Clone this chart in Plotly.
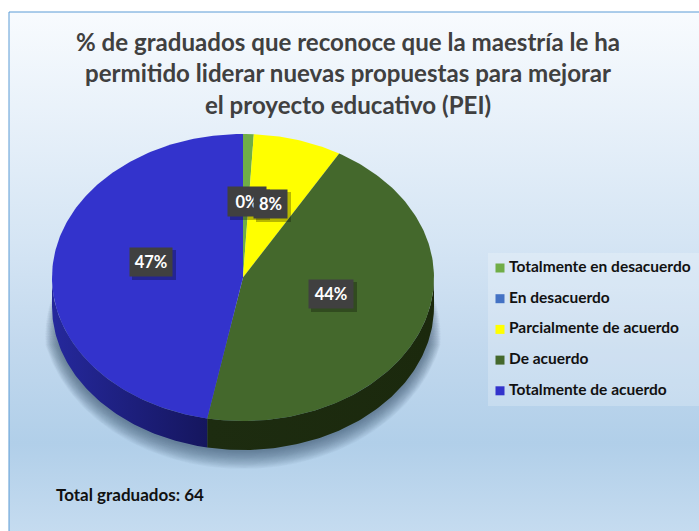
import numpy as np
import plotly.graph_objects as go

# ---- data ----
categories = ["Totalmente en desacuerdo", "En desacuerdo", "Parcialmente de acuerdo",
              "De acuerdo", "Totalmente de acuerdo"]
values = [0.9, 0.0, 7.5, 44.6, 47.0]
label_texts = ["0%", "8%", "44%", "47%"]
title_lines = ["% de graduados que reconoce que la maestría le ha",
               "permitido liderar nuevas propuestas para mejorar",
               "el proyecto educativo (PEI)"]
note_text = "Total graduados: 64"

# ---- styling / layout constants ----
W, H = 699, 531
top_colors = ["#70ad47", "#4472c4", "#ffff00", "#44682c", "#3333cc"]
side_colors = [("#4a7530", "#4a7530"), ("#2d4c85", "#2d4c85"), ("#a8a800", "#a8a800"),
               ("#1d2c10", "#1b290d"), ("#25289c", "#15165e")]
CX, CY, RX, RY, DEPTH = 243.0, 277.5, 191.0, 143.5, 29.0
FONT = "Lato"
label_boxes = [(228, 266, 187, 216), (254, 287, 190, 218), (309, 353, 280, 308), (130, 172, 248, 276)]


def arc(t1, t2):
    n = max(2, int(abs(t2 - t1)) + 2)
    t = np.radians(np.linspace(t1, t2, n))
    return CX + RX * np.sin(t), CY - RY * np.cos(t)


fig = go.Figure()

# background panel with gradient
fig.add_trace(go.Scatter(
    x=[9, W + 5, W + 5, 9, 9], y=[12, 12, H + 5, H + 5, 12], mode="lines", fill="toself",
    line=dict(color="#5b9bd5", width=1),
    fillgradient=dict(type="vertical",
                      colorscale=[[0, "#c6dcf0"], [0.177, "#b1cfe9"], [0.374, "#c3d9ee"],
                                  [0.56, "#d5e5f4"], [1, "#f8fbfe"]]),
    hoverinfo="skip", showlegend=False))

# legend panel
fig.add_trace(go.Scatter(
    x=[488, W + 5, W + 5, 488, 488], y=[253, 253, 406, 406, 253], mode="lines", fill="toself",
    line=dict(width=0), fillcolor="rgba(255,255,255,0.22)", hoverinfo="skip", showlegend=False))

# soft drop shadow below the pie
for k in range(20, 0, -1):
    cut = k * 3.0
    t = np.radians(np.linspace(85 + cut * 0.3, 275 - cut * 0.3, 200))
    sx = CX + (RX + k * 0.6) * np.sin(t)
    sy = CY + DEPTH + 1 + (RY + k * 0.9) * -np.cos(t)
    fig.add_trace(go.Scatter(x=sx, y=sy, mode="lines", fill="toself", line=dict(width=0),
                             fillcolor="rgba(60,80,100,0.04)", hoverinfo="skip", showlegend=False))

# pie walls and top faces from the values
edges = np.cumsum([0] + values) * 3.6
for i, v in enumerate(values):
    if v <= 0:
        continue
    a, b = edges[i], edges[i + 1]
    lo, hi = max(a, 90), min(b, 270)
    if lo < hi:
        ax, ay = arc(lo, hi)
        fig.add_trace(go.Scatter(
            x=np.r_[ax, ax[::-1], ax[0]], y=np.r_[ay, ay[::-1] + DEPTH, ay[0]],
            mode="lines", fill="toself", line=dict(width=0),
            fillgradient=dict(type="horizontal",
                              colorscale=[[0, side_colors[i][0]], [1, side_colors[i][1]]]),
            hoverinfo="skip", showlegend=False))
for i, v in enumerate(values):
    if v <= 0:
        continue
    ax, ay = arc(edges[i], edges[i + 1])
    fig.add_trace(go.Scatter(
        x=np.r_[CX, ax, CX], y=np.r_[CY, ay, CY], mode="lines", fill="toself",
        line=dict(width=0), fillcolor=top_colors[i], name=categories[i],
        hoverinfo="name", showlegend=False))

# legend
LEG_Y0, LEG_STEP = 268.0, 30.7
leg_y = [LEG_Y0 + LEG_STEP * i for i in range(len(categories))]
fig.add_trace(go.Scatter(
    x=[500] * len(categories), y=leg_y, mode="markers",
    marker=dict(symbol="square", size=9, color=top_colors, line_width=0),
    hoverinfo="skip", showlegend=False))
fig.add_trace(go.Scatter(
    x=[509] * len(categories), y=leg_y, mode="text", text=categories,
    textposition="middle right",
    textfont=dict(family=FONT, size=15.5, color="#111111", weight="bold"),
    hoverinfo="skip", showlegend=False))

# data labels: shadow + box
for (x0, x1, y0, y1), txt in zip(label_boxes, label_texts):
    fig.add_shape(type="rect", x0=x0 + 2, x1=x1 + 4, y0=y0 + 2, y1=y1 + 4, line_width=0,
                  fillcolor="rgba(0,0,0,0.28)", layer="above")
    fig.add_annotation(x=(x0 + x1) / 2, y=(y0 + y1) / 2, text=f"<b>{txt}</b>", showarrow=False,
                       width=x1 - x0, height=y1 - y0, bgcolor="#404040", borderpad=0,
                       font=dict(family=FONT, size=16.5, color="#ffffff"))

fig.add_annotation(x=54, y=494, text=f"<b>{note_text}</b>", showarrow=False, xanchor="left",
                   font=dict(family=FONT, size=17, color="#111111"))

fig.add_annotation(x=347.5, y=73, text="<b>" + "<br>".join(title_lines) + "</b>", showarrow=False,
                   font=dict(family=FONT, size=24.1, color="#404040"))

fig.update_layout(
    width=W, height=H, margin=dict(l=0, r=0, t=0, b=0), autosize=False,
    paper_bgcolor="#ffffff", plot_bgcolor="rgba(0,0,0,0)", showlegend=False,
    xaxis=dict(range=[0, W], visible=False, fixedrange=True),
    yaxis=dict(range=[H, 0], visible=False, fixedrange=True),
)

fig.write_html("out.html", config=dict(displayModeBar=False),
               post_script="document.body.style.margin='0';document.body.style.overflow='hidden';")
